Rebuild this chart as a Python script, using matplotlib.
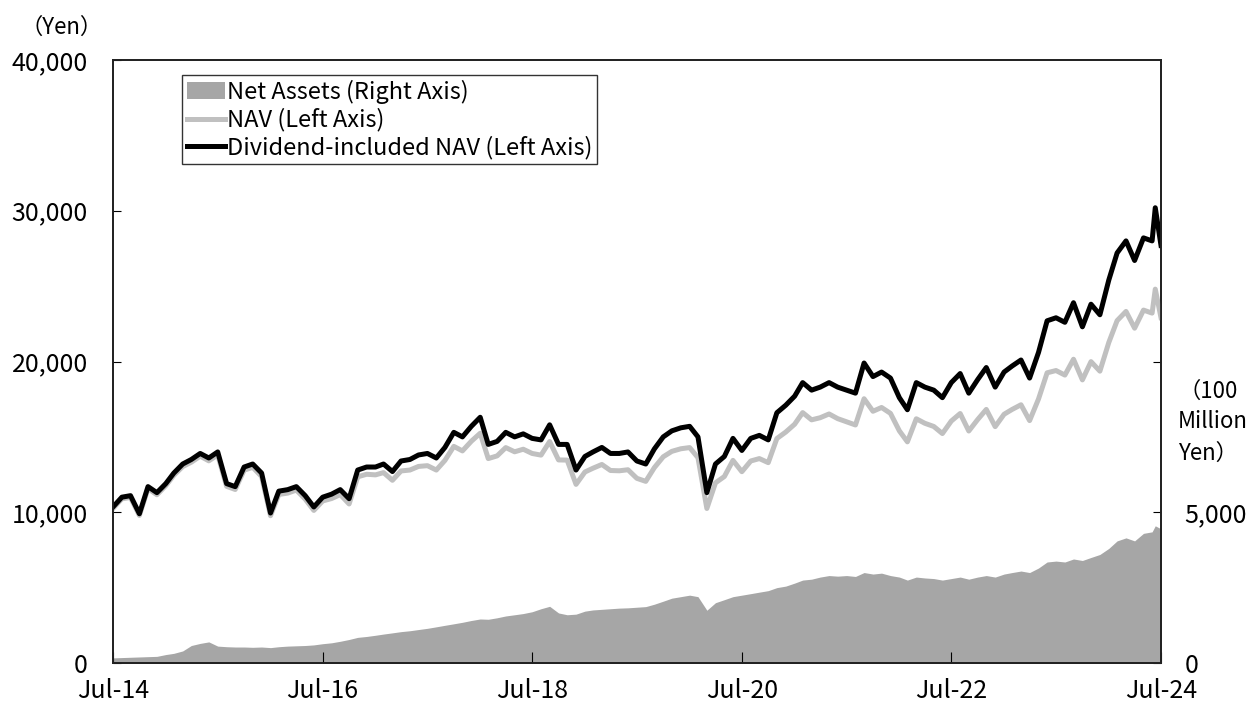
import matplotlib
matplotlib.use("Agg")
import matplotlib.pyplot as plt
import matplotlib.patches as mpatches
import matplotlib.ticker as mticker
import pandas as pd

plt.rcParams['font.family'] = ['Noto Sans CJK JP', 'DejaVu Sans']

# month-end dates Jul-14 .. Jun-24, then the July 2024 peak and the last day
dates = list(pd.date_range('2014-07-31', '2024-06-30', freq='ME'))
dates += [pd.Timestamp('2024-07-11'), pd.Timestamp('2024-07-31')]

# Dividend-included NAV (yen)
div_nav = [
    10350, 11000, 11100, 9900, 11700, 11300, 11900, 12600, 13200, 13500,
    13900, 13600, 14000, 11900, 11700, 13000, 13200, 12600, 9950, 11400,
    11500, 11700, 11100, 10350, 11000, 11200, 11500, 10900, 12800, 13000,
    13000, 13200, 12700, 13400, 13500, 13800, 13900, 13600, 14300, 15300,
    15000, 15700, 16300, 14500, 14700, 15300, 15000, 15200, 14900, 14800,
    15800, 14500, 14500, 12800, 13700, 14000, 14300, 13900, 13900, 14000,
    13400, 13200, 14200, 15000, 15400, 15600, 15700, 15000, 11300, 13200,
    13700, 14900, 14100, 14900, 15100, 14800, 16600, 17100, 17700, 18600,
    18100, 18300, 18600, 18300, 18100, 17900, 19900, 19000, 19300, 18900,
    17600, 16800, 18600, 18300, 18100, 17600, 18600, 19200, 17900, 18800,
    19600, 18300, 19300, 19700, 20100, 18900, 20600, 22700, 22900, 22600,
    23900, 22300, 23800, 23100, 25400, 27200, 28000, 26700, 28200, 28000,
    30200, 27700,
]

# NAV (yen)
nav = [
    10250, 10890, 10980, 9790, 11570, 11160, 11760, 12450, 13030, 13320,
    13720, 13410, 13800, 11720, 11510, 12790, 12980, 12370, 9770, 11180,
    11270, 11470, 10870, 10120, 10750, 10910, 11170, 10550, 12350, 12520,
    12480, 12630, 12120, 12740, 12800, 13040, 13090, 12800, 13440, 14370,
    14070, 14710, 15240, 13560, 13740, 14290, 14010, 14180, 13900, 13790,
    14690, 13470, 13460, 11850, 12670, 12920, 13170, 12770, 12750, 12820,
    12250, 12050, 12960, 13680, 14040, 14210, 14290, 13620, 10250, 11950,
    12370, 13440, 12690, 13400, 13560, 13290, 14890, 15320, 15840, 16610,
    16130, 16270, 16520, 16210, 16000, 15790, 17530, 16700, 16950, 16560,
    15400, 14670, 16200, 15900, 15690, 15220, 16050, 16550, 15390, 16150,
    16820, 15680, 16500, 16820, 17130, 16080, 17510, 19250, 19400, 19100,
    20150, 18780, 19990, 19360, 21260, 22710, 23320, 22210, 23410, 23210,
    24800, 22910,
]

# Net assets (100 million yen)
net_assets = [
    170, 180, 190, 200, 210, 220, 280, 320, 400, 580,
    650, 700, 560, 540, 530, 530, 520, 530, 510, 540,
    560, 570, 580, 600, 640, 670, 720, 780, 850, 880,
    920, 960, 1000, 1040, 1070, 1110, 1150, 1200, 1250, 1300,
    1350, 1410, 1460, 1450, 1500, 1560, 1600, 1640, 1700, 1800,
    1880, 1660, 1600, 1620, 1720, 1760, 1780, 1800, 1820, 1830,
    1850, 1870, 1950, 2050, 2150, 2200, 2250, 2200, 1750, 2000,
    2100, 2200, 2250, 2300, 2350, 2400, 2500, 2550, 2650, 2750,
    2780, 2850, 2900, 2880, 2900, 2870, 3000, 2950, 2980, 2900,
    2850, 2750, 2850, 2820, 2800, 2750, 2800, 2850, 2780, 2850,
    2900, 2850, 2950, 3000, 3050, 3000, 3150, 3350, 3380, 3350,
    3450, 3400, 3500, 3600, 3800, 4050, 4150, 4050, 4300, 4350,
    4550, 4450,
]

tick_dates = pd.to_datetime(['2014-07-31', '2016-07-31', '2018-07-31',
                             '2020-07-31', '2022-07-31', '2024-07-31'])
tick_labels = ['Jul-14', 'Jul-16', 'Jul-18', 'Jul-20', 'Jul-22', 'Jul-24']

fig = plt.figure(figsize=(12.48, 7.09), dpi=100)
ax = fig.add_axes([113 / 1248, 1 - 663 / 709, 1048 / 1248, 603 / 709])
ax2 = ax.twinx()

ax2.fill_between(dates, net_assets, 0, color='#a6a6a6', lw=0)
ax.plot(dates, nav, color='#c0c0c0', lw=3.6, solid_joinstyle='round')
ax.plot(dates, div_nav, color='black', lw=3.6, solid_joinstyle='round')

# lines above the area
ax.set_zorder(ax2.get_zorder() + 1)
ax.patch.set_visible(False)

ax.set_xlim(dates[0], dates[-1])
ax.set_ylim(0, 40000)
ax2.set_ylim(0, 20000)

ax.set_xticks(tick_dates)
ax.set_xticklabels(tick_labels)
ax.set_yticks([0, 10000, 20000, 30000, 40000])
ax.yaxis.set_major_formatter(mticker.FuncFormatter(lambda v, p: f'{v:,.0f}'))
ax2.set_yticks([0, 5000, 10000])
ax2.set_yticklabels(['0', '5,000', ''])

ax.tick_params(axis='x', direction='in', length=8, pad=11, labelsize=18)
ax.tick_params(axis='y', direction='in', length=6, pad=18, labelsize=18)
ax2.tick_params(axis='y', direction='in', length=6, pad=17, labelsize=18)
ax2.tick_params(axis='x', which='both', length=0)

for a in (ax, ax2):
    for s in a.spines.values():
        s.set_color('#222222')
        s.set_linewidth(1.3)

fig.text(62 / 1248, 1 - 27 / 709, '（Yen）', ha='center', va='center', fontsize=16)
fig.text(1178 / 1248, 1 - 422 / 709, '（100\nMillion\nYen）', ha='left', va='center',
         fontsize=16, linespacing=1.45)

handles = [
    mpatches.Patch(facecolor='#a6a6a6', edgecolor='none'),
    plt.Line2D([], [], color='#c0c0c0', lw=3.6),
    plt.Line2D([], [], color='black', lw=3.6),
]
labels = ['Net Assets (Right Axis)', 'NAV (Left Axis)', 'Dividend-included NAV (Left Axis)']
leg = ax.legend(handles, labels, loc='upper left', bbox_to_anchor=(0.066, 0.975),
                fontsize=17, frameon=True, fancybox=False, handlelength=1.6,
                handletextpad=0.1, borderpad=0.2, labelspacing=0.18,
                borderaxespad=0)
leg.get_frame().set_edgecolor('black')
leg.get_frame().set_linewidth(1.0)

fig.savefig('out.png', dpi=100)
